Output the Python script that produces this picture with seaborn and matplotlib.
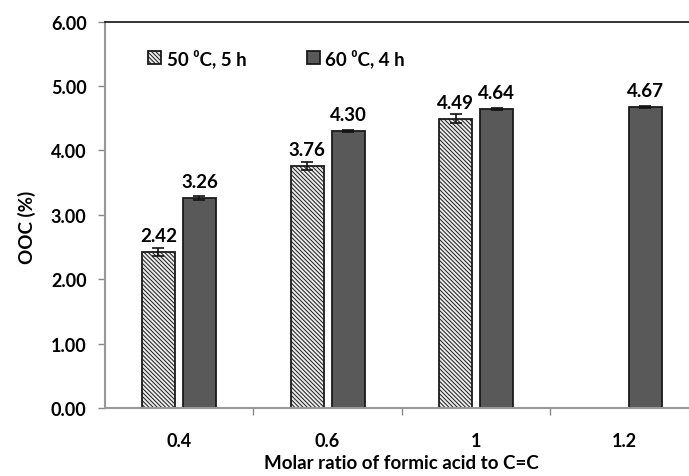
import matplotlib
matplotlib.use("Agg")
import matplotlib.pyplot as plt
from matplotlib.patches import Rectangle
import seaborn as sns
import pandas as pd
import numpy as np

categories = ["0.4", "0.6", "1", "1.2"]
series_names = ["50 \u2070C, 5 h", "60 \u2070C, 4 h"]
ooc_50 = [2.42, 3.76, 4.49, np.nan]
ooc_60 = [3.26, 4.30, 4.64, 4.67]
err_50 = [0.06, 0.06, 0.07, np.nan]
err_60 = [0.03, 0.02, 0.015, 0.02]
yticks = [0, 1, 2, 3, 4, 5, 6]

df = pd.DataFrame({
    "ratio": categories * 2,
    "series": [series_names[0]] * 4 + [series_names[1]] * 4,
    "ooc": ooc_50 + ooc_60,
})

sns.set_theme(style="white")
plt.rcParams["font.family"] = ["Lato", "DejaVu Sans"]
plt.rcParams["font.weight"] = "bold"
plt.rcParams["hatch.color"] = "#a8a8a8"
plt.rcParams["hatch.linewidth"] = 0.7

HATCH = "\\" * 8
fig = plt.figure(figsize=(6.89, 4.77), dpi=100)
ax = fig.add_axes([104.7 / 689, 68 / 477, (699 - 104.7) / 689, (454.5 - 68) / 477])

sns.barplot(data=df, x="ratio", y="ooc", hue="series", order=categories,
            hue_order=series_names, width=0.552, gap=0.196,
            palette=["#ebebeb", "#595959"], edgecolor="#1a1a1a", linewidth=1.3,
            errorbar=None, ax=ax, legend=True)

errs = [err_50, err_60]
vals = [ooc_50, ooc_60]
bars = [p for p in ax.patches if isinstance(p, Rectangle) and p.get_height() > 0
        and p.get_width() < 0.5]
for p in bars:
    cx = p.get_x() + p.get_width() / 2
    bi = int(round(cx))
    ci = 0 if cx < bi else 1
    v = vals[ci][bi]
    if np.isnan(v):
        continue
    if ci == 0:
        p.set_hatch(HATCH)
    ax.errorbar(cx, v, yerr=errs[ci][bi], color="#111111", capsize=4,
                elinewidth=1.2, capthick=1.2, fmt="none", zorder=5)
    ax.text(cx, v + 0.12, f"{v:.2f}", ha="center", va="bottom",
            fontsize=13.5, fontweight="bold", color="#000000")

ax.set_xlim(-0.5, 3.5)
ax.set_ylim(0, 6)
ax.set_yticks(yticks)
ax.set_yticklabels([f"{t:.2f}" for t in yticks], fontsize=13, fontweight="bold",
                   color="#000000")
ax.set_xticks([0.5, 1.5, 2.5], minor=True)
ax.tick_params(axis="x", which="major", labelsize=13, pad=11, bottom=False,
               labelcolor="#000000")
ax.tick_params(axis="x", which="minor", bottom=True, length=5, color="#888888", width=1)
for lab in ax.get_xticklabels():
    lab.set_fontweight("bold")
ax.tick_params(axis="y", left=True, length=5, color="#888888", width=1, pad=8)

ax.set_xlabel("Molar ratio of formic acid to C=C", fontsize=13.5, fontweight="bold",
              labelpad=4, color="#000000")
ax.set_ylabel("OOC (%)", fontsize=13.5, fontweight="bold", color="#000000")
ax.yaxis.set_label_coords(-0.115, 0.47)

ax.spines["right"].set_visible(False)
ax.spines["top"].set_color("#111111")
ax.spines["top"].set_linewidth(1.2)
ax.spines["left"].set_color("#999999")
ax.spines["left"].set_linewidth(1.5)
ax.spines["bottom"].set_color("#999999")
ax.spines["bottom"].set_linewidth(1.5)

handles, labels = ax.get_legend_handles_labels()
handles[0].set_hatch(HATCH)
leg = ax.legend(handles, labels, loc="upper left", bbox_to_anchor=(0.045, 0.975),
                ncol=2, frameon=False, handlelength=0.7,
                handleheight=0.7, handletextpad=0.3, columnspacing=3.2,
                prop={"weight": "bold", "size": 13.5})
for t in leg.get_texts():
    t.set_color("#000000")

fig.savefig("out.png", dpi=100)
